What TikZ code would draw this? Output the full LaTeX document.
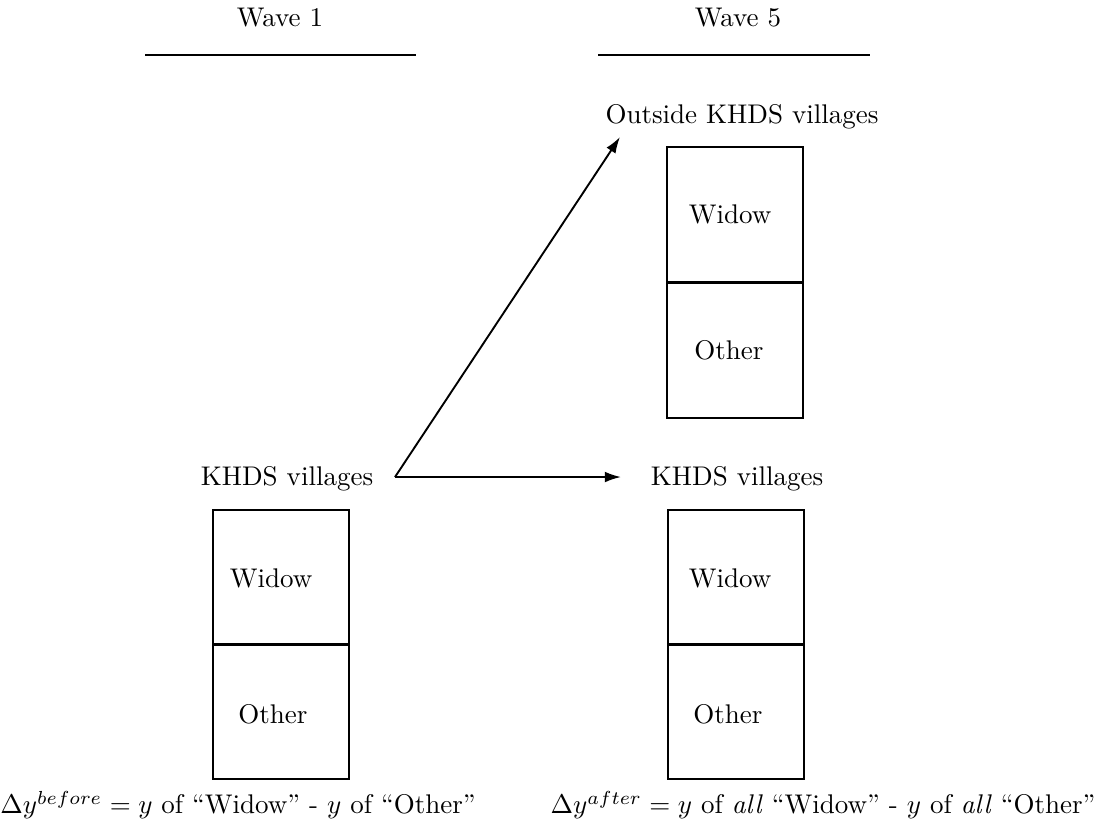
\documentclass[tikz,border=0pt]{standalone}
\usetikzlibrary{arrows.meta}
\begin{document}
\begin{tikzpicture}[x=0.3704pt,y=-0.3704pt,
  lbl/.style={inner sep=0pt,font=\normalsize},
  half/.style={draw,line width=0.7pt,minimum width=136*0.3704pt,minimum height=135*0.3704pt,inner sep=0pt},
  rule/.style={line width=0.7pt},
  arr/.style={line width=0.7pt,-{Latex[length=6pt,width=4pt]}}]
\useasboundingbox (0,0) rectangle (1101,834);
% headers
\node[lbl] (w1) at (280,18) {Wave 1};
\node[lbl] (w5) at (738,18) {Wave 5};
\coordinate (w1a) at (145,55); \coordinate (w1b) at (416,55);
\coordinate (w5a) at (598,55); \coordinate (w5b) at (870,55);
\draw[rule] (w1a) -- (w1b);
\draw[rule] (w5a) -- (w5b);
% top right
\node[lbl] (out) at (742,117) {Outside KHDS villages};
\node[half,anchor=north west] (ow) at (666,146) {};
\node[half,anchor=north west] (oo) at (666,282) {};
\node[lbl] at (730,214) {Widow};
\node[lbl] at (729,350) {Other};
% left
\node[lbl] (kl) at (287,479) {KHDS villages};
\node[half,anchor=north west] (lw) at (212,509) {};
\node[half,anchor=north west] (lo) at (212,643) {};
\node[lbl] at (271,578) {Widow};
\node[lbl] at (273,714) {Other};
% right
\node[lbl] (kr) at (737,479) {KHDS villages};
\node[half,anchor=north west] (rw) at (667,509) {};
\node[half,anchor=north west] (ro) at (667,643) {};
\node[lbl] at (730,578) {Widow};
\node[lbl] at (728,714) {Other};
% arrows
\coordinate (s) at (395,477);
\coordinate (t1) at (621,477);
\coordinate (t2) at (620,137);
\draw[arr] (s) -- (t1);
\draw[arr] (s) -- (t2);
% formulas
\node[lbl] (fb) at (238,805) {$\Delta y^{before}=y$ of ``Widow'' - $y$ of ``Other''};
\node[lbl] (fa) at (823,805) {$\Delta y^{after}=y$ of \textit{all} ``Widow'' - $y$ of \textit{all} ``Other''};
\end{tikzpicture}
\end{document}
